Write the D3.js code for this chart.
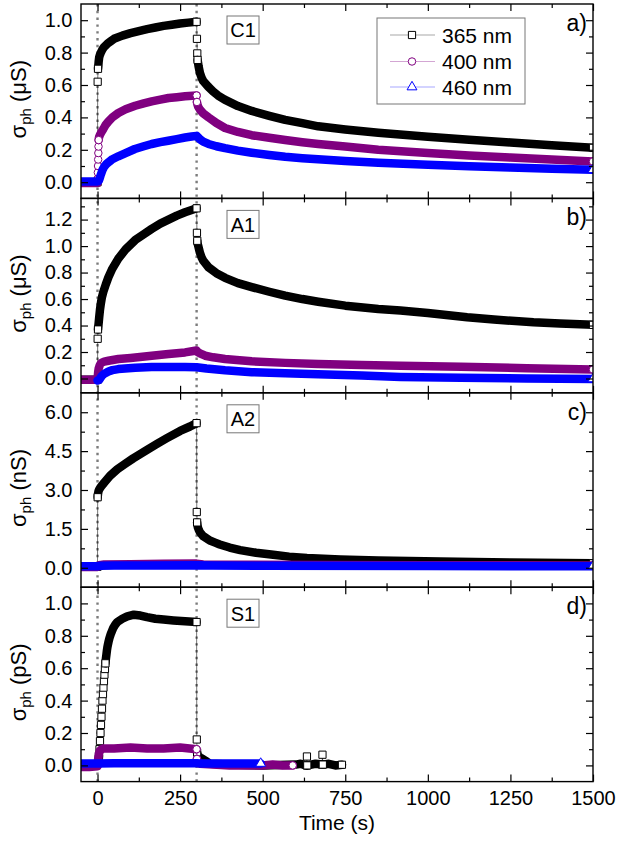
<!DOCTYPE html>
<html><head><meta charset="utf-8">
<script src="https://cdn.jsdelivr.net/npm/d3@7"></script>
<style>body{margin:0;background:#fff} svg{display:block} text{font-family:Arial,"Liberation Sans",sans-serif}</style>
</head><body><svg id="c" width="620" height="841"></svg>
<script>
// ---------------- DATA ----------------
const seriesNames = ["365 nm", "400 nm", "460 nm"];
const seriesColors = ["#000000", "#800080", "#0000ff"];
const panelIds = ["C1", "A1", "A2", "S1"];
const panelLetters = ["a)", "b)", "c)", "d)"];
const panelUnits = ["\u03bcS", "\u03bcS", "nS", "pS"];
const yDomains = [[-0.1, 1.1], [-0.108, 1.36], [-0.75, 6.75], [-0.1, 1.1]];
const yMajorTicks = [[0, 0.2, 0.4, 0.6, 0.8, 1.0], [0, 0.2, 0.4, 0.6, 0.8, 1.0, 1.2], [0, 1.5, 3.0, 4.5, 6.0], [0, 0.2, 0.4, 0.6, 0.8, 1.0]];
const yMinorTicks = [[0.1, 0.3, 0.5, 0.7, 0.9], [0.1, 0.3, 0.5, 0.7, 0.9, 1.1, 1.3], [0.75, 2.25, 3.75, 5.25], [0.1, 0.3, 0.5, 0.7, 0.9]];
const xMajorTicks = [0, 250, 500, 750, 1000, 1250, 1500];
const xMinorTicks = [125, 375, 625, 875, 1125, 1375];
const lightSwitchTimes = [0, 300];

// Panel a) C1
const C1_365_t = [-50,-25,0,0.5,1.5,2.5,3.5,5,7,10,15,20,30,40,50,75,100,125,150,175,200,225,250,275,300,301,302,303,304.5,306,308,310,315,320,335,350,365,385,425,467,520,568,620,668,750,850,1000,1125,1250,1375,1500];
const C1_365_v = [0,0,0,0.62,0.70,0.72,0.745,0.77,0.785,0.80,0.82,0.835,0.855,0.87,0.885,0.905,0.92,0.933,0.945,0.955,0.965,0.972,0.98,0.985,0.99,0.885,0.795,0.755,0.735,0.715,0.695,0.675,0.645,0.625,0.59,0.56,0.535,0.51,0.47,0.44,0.41,0.385,0.365,0.345,0.325,0.305,0.28,0.262,0.245,0.228,0.212];
const C1_400_t = [-50,-25,0,0.5,1,1.5,2,2.5,3,3.5,4,5,8,12,18,25,33,45,63,85,114,140,164,190,215,240,265,300,301,302.5,305,310,320,336,360,386,425,467,520,568,620,668,750,850,1000,1125,1250,1375,1500];
const C1_400_v = [-0.005,-0.005,-0.005,0.02,0.06,0.10,0.14,0.18,0.22,0.26,0.27,0.28,0.295,0.31,0.33,0.355,0.375,0.40,0.427,0.45,0.472,0.487,0.499,0.51,0.52,0.525,0.53,0.535,0.495,0.48,0.465,0.448,0.425,0.40,0.365,0.335,0.31,0.29,0.274,0.26,0.247,0.236,0.22,0.2,0.18,0.165,0.152,0.14,0.128];
const C1_460_t = [-50,-25,0,2,4,6,9,12,15,20,27,35,45,63,85,113,140,164,190,214,240,265,285,300,305,310,320,336,360,386,425,467,520,568,620,668,750,850,1000,1125,1250,1375,1500];
const C1_460_v = [0.005,0.005,0.005,0.006,0.01,0.02,0.04,0.058,0.075,0.095,0.112,0.126,0.142,0.16,0.18,0.205,0.222,0.236,0.247,0.256,0.266,0.276,0.282,0.286,0.276,0.265,0.25,0.236,0.222,0.21,0.195,0.182,0.168,0.157,0.148,0.141,0.131,0.12,0.108,0.098,0.09,0.083,0.077];

// Panel b) A1
const A1_365_t = [-50,-25,0,0.5,1.5,2.5,3.5,5,7.5,10,13,17.7,25,33,45,63,85,114,140,164,190,215,240,265,285,300,301,302,303,305,307.5,310,315,320,336,360,386,425,467,520,568,620,668,750,850,917,1000,1119,1200,1320,1400,1500];
const A1_365_v = [-0.01,-0.01,-0.01,0.30,0.37,0.395,0.42,0.46,0.52,0.565,0.61,0.655,0.71,0.765,0.83,0.905,0.975,1.045,1.09,1.13,1.17,1.20,1.23,1.255,1.272,1.285,1.10,1.04,1.02,1.0,0.975,0.95,0.915,0.89,0.84,0.795,0.76,0.72,0.69,0.655,0.626,0.60,0.58,0.55,0.525,0.513,0.495,0.462,0.445,0.424,0.415,0.405];
const A1_400_t = [-50,-25,0,1,2,3.5,6,9,13,20,33,63,100,164,215,265,295,300,303,310,326,350,386,430,467,568,668,800,917,1100,1300,1500];
const A1_400_v = [-0.01,-0.01,-0.01,0.02,0.05,0.075,0.095,0.11,0.12,0.127,0.134,0.147,0.155,0.172,0.185,0.197,0.21,0.212,0.2,0.19,0.172,0.16,0.147,0.138,0.13,0.118,0.109,0.102,0.096,0.088,0.078,0.068];
const A1_460_t = [0,5,9,13,20,33,45,63,114,164,215,265,300,330,386,467,568,668,800,917,1100,1300,1500];
const A1_460_v = [-0.015,-0.01,0.005,0.02,0.035,0.053,0.063,0.071,0.081,0.086,0.087,0.087,0.085,0.075,0.062,0.048,0.04,0.033,0.022,0.012,0.005,0.0,-0.003];

// Panel c) A2
const A2_365_t = [-50,-25,0,0.5,1.5,3,5,10,20,38,60,85,108,150,180,210,250,280,300,300.5,301.5,302.5,304,307,310,320,340,356,370,400,432,480,532,580,634,735,850,1038,1250,1500];
const A2_365_v = [0.04,0.04,0.04,2.72,2.85,2.95,3.02,3.12,3.28,3.55,3.8,4.02,4.22,4.55,4.78,5.0,5.28,5.45,5.58,2.15,1.75,1.65,1.55,1.45,1.37,1.22,1.05,0.97,0.9,0.78,0.68,0.58,0.5,0.43,0.38,0.32,0.28,0.24,0.2,0.17];
const A2_400_t = [-50,-25,0,5,20,100,200,300,320,400,700,1000,1500];
const A2_400_v = [0.03,0.03,0.03,0.1,0.13,0.14,0.15,0.16,0.13,0.12,0.11,0.1,0.09];
const A2_460_t = [-50,-25,0,10,50,150,300,350,500,1000,1500];
const A2_460_v = [0.06,0.06,0.06,0.075,0.085,0.09,0.1,0.085,0.075,0.065,0.06];

// Panel d) S1
const S1_365_t = [-50,-25,0,1.5,3,4.5,6,7.5,9,10.5,12,13.5,15,16.5,18,19.5,21,22.5,24,25.5,27,28.5,30,31.5,33,36,40,44,48,54,60,75,90,110,130,150,175,200,230,265,300,300.5,301.5,304,310,318,326,340,400,500,600,615,633,634,635,660,680,681,682,700,720,740];
const S1_365_v = [0,0,0,0.01,0.03,0.06,0.1,0.15,0.2,0.25,0.3,0.35,0.4,0.44,0.48,0.52,0.56,0.595,0.63,0.66,0.685,0.71,0.73,0.745,0.76,0.785,0.81,0.83,0.85,0.87,0.885,0.905,0.92,0.93,0.925,0.915,0.905,0.9,0.895,0.89,0.885,0.16,0.08,0.06,0.05,0.04,0.03,0.01,0.005,0.0,0.005,0.01,0.0,0.055,0.0,0.01,0.005,0.066,0.005,0.01,0.0,0.004];
const S1_400_t = [-50,-25,0,2,4,7,12,20,50,100,150,200,250,300,301,303,310,400,500,530,560,591];
const S1_400_v = [-0.01,-0.01,-0.005,0.04,0.07,0.09,0.1,0.105,0.105,0.11,0.105,0.105,0.11,0.1,0.04,0.02,0.01,0.0,0.0,0.005,0.0,0.0];
const S1_460_t = [-50,-25,0,50,100,200,300,310,400,494];
const S1_460_v = [0.012,0.012,0.012,0.014,0.014,0.013,0.014,0.012,0.012,0.012];

const panelData = [
  [[C1_365_t, C1_365_v], [C1_400_t, C1_400_v], [C1_460_t, C1_460_v]],
  [[A1_365_t, A1_365_v], [A1_400_t, A1_400_v], [A1_460_t, A1_460_v]],
  [[A2_365_t, A2_365_v], [A2_400_t, A2_400_v], [A2_460_t, A2_460_v]],
  [[S1_365_t, S1_365_v], [S1_400_t, S1_400_v], [S1_460_t, S1_460_v]]
];

// ---------------- DRAWING ----------------
const FONT = 'Arial,"Liberation Sans",sans-serif';
const svg = d3.select("#c");
svg.append("rect").attr("width", 620).attr("height", 841).attr("fill", "#fff");
const L = 81, R = 593, T0 = 4, PH = 194.4;
const x = d3.scaleLinear().domain([-50, 1500]).range([L, R]);
const symTypes = [d3.symbolSquare, d3.symbolCircle, d3.symbolTriangle];
const symSizes = [52, 44, 42];
const BAND = 8.5;
const defs = svg.append("defs");

// dotted lines at light on/off
lightSwitchTimes.forEach(t => {
  svg.append("line").attr("x1", x(t)).attr("x2", x(t)).attr("y1", T0).attr("y2", T0 + 4 * PH)
    .attr("stroke", "#7c7c7c").attr("stroke-width", 2.4).attr("stroke-dasharray", "2.4,4.4");
});

function styleAxis(a) {
  a.select(".domain").remove();
  a.selectAll("line").attr("stroke", "#000").attr("stroke-width", 1.2);
  a.selectAll("text").attr("font-size", 20).attr("fill", "#000").attr("font-family", FONT);
}

panelData.forEach((series, i) => {
  const top = T0 + i * PH, bot = top + PH;
  const y = d3.scaleLinear().domain(yDomains[i]).range([bot, top]);
  defs.append("clipPath").attr("id", "clip" + i).append("rect")
    .attr("x", L).attr("y", top).attr("width", R - L).attr("height", PH);
  const g = svg.append("g").attr("clip-path", `url(#clip${i})`);

  series.forEach(([ts, vs], k) => {
    const col = seriesColors[k];
    const pts = ts.map((t, j) => [x(t), y(vs[j])]);
    // thin connecting line
    g.append("path").attr("d", d3.line()(pts)).attr("fill", "none")
      .attr("stroke", col).attr("stroke-width", 0.9).attr("stroke-opacity", 0.6);
    // split into runs where consecutive samples jump
    const runs = []; let cur = [pts[0]];
    for (let j = 1; j < pts.length; j++) {
      const dt = ts[j] - ts[j - 1];
      const dy = Math.abs(pts[j][1] - pts[j - 1][1]);
      if (dt <= 1.5 && dy > 5.5) { runs.push(cur); cur = []; }
      cur.push(pts[j]);
    }
    runs.push(cur);
    const sym = d3.symbol().type(symTypes[k]).size(symSizes[k]);
    const mark = p => g.append("path").attr("d", sym()).attr("transform", `translate(${p[0]},${p[1]})`)
      .attr("fill", "#fff").attr("stroke", col).attr("stroke-width", 1);
    runs.forEach((r, ri) => {
      if (r.length > 1) {
        g.append("path").attr("d", d3.line()(r)).attr("fill", "none")
          .attr("stroke", col).attr("stroke-width", BAND)
          .attr("stroke-linecap", "round").attr("stroke-linejoin", "round");
        if (ri > 0) mark(r[0]);
      }
      mark(r[r.length - 1]);
    });
  });

  // axes (ticks inward on all sides)
  const aL = svg.append("g").attr("transform", `translate(${L},0)`)
    .call(d3.axisLeft(y).tickValues(yMajorTicks[i]).tickSize(-7).tickPadding(8.5).tickFormat(d3.format(".1f")));
  styleAxis(aL);
  const aLm = svg.append("g").attr("transform", `translate(${L},0)`)
    .call(d3.axisLeft(y).tickValues(yMinorTicks[i]).tickSize(-4).tickFormat(""));
  styleAxis(aLm);
  const aR = svg.append("g").attr("transform", `translate(${R},0)`)
    .call(d3.axisRight(y).tickValues(yMajorTicks[i]).tickSize(-7).tickFormat(""));
  styleAxis(aR);
  const aRm = svg.append("g").attr("transform", `translate(${R},0)`)
    .call(d3.axisRight(y).tickValues(yMinorTicks[i]).tickSize(-4).tickFormat(""));
  styleAxis(aRm);
  const aT = svg.append("g").attr("transform", `translate(0,${top})`)
    .call(d3.axisTop(x).tickValues(xMajorTicks).tickSize(-7).tickFormat(""));
  styleAxis(aT);
  const aTm = svg.append("g").attr("transform", `translate(0,${top})`)
    .call(d3.axisTop(x).tickValues(xMinorTicks).tickSize(-4).tickFormat(""));
  styleAxis(aTm);
  const aB = svg.append("g").attr("transform", `translate(0,${bot})`)
    .call(d3.axisBottom(x).tickValues(xMajorTicks).tickSize(-7).tickPadding(9)
      .tickFormat(i === 3 ? d3.format("d") : ""));
  styleAxis(aB);
  const aBm = svg.append("g").attr("transform", `translate(0,${bot})`)
    .call(d3.axisBottom(x).tickValues(xMinorTicks).tickSize(-4).tickFormat(""));
  styleAxis(aBm);

  // frame
  svg.append("rect").attr("x", L).attr("y", top).attr("width", R - L).attr("height", PH)
    .attr("fill", "none").attr("stroke", "#000").attr("stroke-width", 1.4);

  // sample id box
  svg.append("rect").attr("x", 227).attr("y", top + 12).attr("width", 32).attr("height", 28)
    .attr("fill", "#fff").attr("stroke", "#777").attr("stroke-width", 1);
  svg.append("text").attr("x", 243).attr("y", top + 33.3).attr("text-anchor", "middle")
    .attr("font-size", 20).attr("font-family", FONT).text(panelIds[i]);

  // panel letter
  svg.append("text").attr("x", 587).attr("y", top + 27).attr("text-anchor", "end")
    .attr("font-size", 23).attr("font-family", FONT).text(panelLetters[i]);

  // y title
  const yt = svg.append("text").attr("transform", `translate(26,${(top + bot) / 2 - 2}) rotate(-90)`)
    .attr("text-anchor", "middle").attr("font-size", 22).attr("font-family", FONT);
  yt.append("tspan").text("\u03c3");
  yt.append("tspan").attr("font-size", 15).attr("dy", "0.3em").text("ph");
  yt.append("tspan").attr("dy", "-0.2em").text(" (" + panelUnits[i] + ")");
});

// x title
svg.append("text").attr("x", (L + R) / 2).attr("y", 830).attr("text-anchor", "middle")
  .attr("font-size", 21).attr("font-family", FONT).text("Time (s)");

// legend
const lg = svg.append("g");
lg.append("rect").attr("x", 377).attr("y", 18).attr("width", 148).attr("height", 86)
  .attr("fill", "#fff").attr("stroke", "#777").attr("stroke-width", 1);
const legendRows = [35, 61.5, 87];
seriesNames.forEach((nm, k) => {
  const yy = legendRows[k];
  lg.append("line").attr("x1", 390).attr("x2", 435).attr("y1", yy).attr("y2", yy)
    .attr("stroke", seriesColors[k]).attr("stroke-opacity", 0.35).attr("stroke-width", 1);
  lg.append("path").attr("d", d3.symbol().type(symTypes[k]).size(symSizes[k])())
    .attr("transform", `translate(412,${yy})`).attr("fill", "#fff")
    .attr("stroke", seriesColors[k]).attr("stroke-width", 1);
  lg.append("text").attr("x", 442).attr("y", yy).attr("dy", "0.36em")
    .attr("font-size", 21).attr("font-family", FONT).text(nm);
});
</script>
</body></html>
